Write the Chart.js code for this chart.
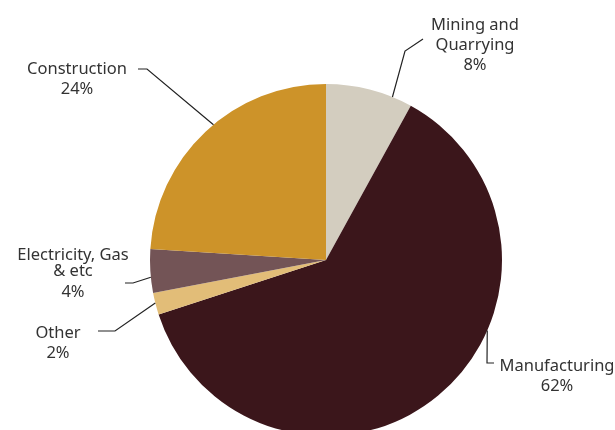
<!DOCTYPE html>
<html>
<head>
<meta charset="utf-8">
<script src="https://cdn.jsdelivr.net/npm/chart.js@4/dist/chart.umd.min.js"></script>
<style>
 html, body { margin: 0; padding: 0; background: #fff; overflow: hidden; }
 #wrap { position: relative; width: 615px; height: 460px; }
</style>
</head>
<body>
<div id="wrap"><canvas id="sectorPie-canvas"></canvas></div>
<script>
var sectors = ["Mining and Quarrying", "Manufacturing", "Other", "Electricity, Gas & etc", "Construction"];
var shares = [8, 62, 2, 4, 24];
var sectorColors = [
 "#D3CDBF", // mining
 "#3B161B", // manufacturing
 "#E2BD78", // other
 "#735456", // electricity
 "#CD9329", // construction
];

// label text lines, centre of text block, leader elbow and where along the slice the line lands
var labelSetup = [
 { lines: ["Mining and", "Quarrying", "8%"], x: 475, y: 25, elbow: [[423, 39], [405, 51]], along: 0.77 },
 { lines: ["Manufacturing", "62%"], x: 557, y: 366, elbow: [[494, 363], [487, 363]], along: 0.38 },
 { lines: ["Other", "2%"], x: 58, y: 333, elbow: [[98, 331], [115, 331]], along: 0.54 },
 { lines: ["Electricity, Gas", "& etc", "4%"], x: 73, y: 255, gaps: [16, 21], elbow: [[125, 283], [133, 283]], along: 0.36 },
 { lines: ["Construction", "24%"], x: 77, y: 69, elbow: [[138, 69], [147, 69]], along: 0.54 },
];

var sectorLabels = {
 id: "sectorLabels",
 afterDatasetsDraw: function (chart) {
  var ctx = chart.ctx;
  var arcs = chart.getDatasetMeta(0).data;
  ctx.save();
  ctx.font = "16.5px 'Noto Sans', sans-serif";
  ctx.fillStyle = "#333";
  ctx.strokeStyle = "#222";
  ctx.lineWidth = 1.2;
  ctx.textAlign = "center";
  ctx.textBaseline = "middle";
  labelSetup.forEach(function (lab, i) {
   var arc = arcs[i];
   var p = arc.getProps(["x", "y", "startAngle", "endAngle", "outerRadius"], true);
   var a = p.startAngle + (p.endAngle - p.startAngle) * lab.along;
   var ex = p.x + Math.cos(a) * p.outerRadius;
   var ey = p.y + Math.sin(a) * p.outerRadius;
   ctx.beginPath();
   ctx.moveTo(lab.elbow[0][0], lab.elbow[0][1]);
   ctx.lineTo(lab.elbow[1][0], lab.elbow[1][1]);
   ctx.lineTo(ex, ey);
   ctx.stroke();
   var y = lab.y;
   lab.lines.forEach(function (t, k) {
    ctx.fillText(t, lab.x, y);
    y += lab.gaps ? (lab.gaps[k] || 20) : 20;
   });
  });
  ctx.restore();
 },
};

var ctx = document.getElementById("sectorPie-canvas");
new Chart(ctx, {
 type: "pie",
 data: {
  labels: sectors,
  datasets: [
   {
    data: shares,
    backgroundColor: sectorColors,
    borderWidth: 0,
   },
  ],
 },
 options: {
  responsive: true,
  maintainAspectRatio: false,
  animation: false,
  layout: {
   padding: { left: 150, right: 113, top: 84, bottom: 24 },
  },
  plugins: {
   legend: { display: false },
   tooltip: { enabled: false },
  },
 },
 plugins: [sectorLabels],
});
</script>
</body>
</html>
